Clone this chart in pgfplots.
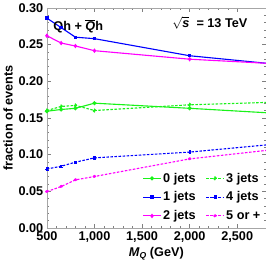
\documentclass[border=0pt]{standalone}
\usepackage{fontspec}
\setmainfont{Liberation Sans}
\usepackage{pgfplots}
\pgfplotsset{compat=1.18}
\definecolor{mgreen}{rgb}{0.1,0.95,0.1}
\definecolor{mblue}{rgb}{0,0,1}
\definecolor{mmag}{rgb}{1,0,1}
\newcommand{\ff}{\fontsize{12.5}{14}\selectfont\bfseries}
\begin{document}
\begin{tikzpicture}
\begin{axis}[
  scale only axis, width=216pt, height=217pt,
  xmin=500, xmax=2800, ymin=0, ymax=0.30,
  xtick={500,1000,1500,2000,2500},
  ytick={0,0.05,0.10,0.15,0.20,0.25,0.30},
  minor x tick num=4, minor y tick num=4,
  yticklabel style={/pgf/number format/.cd,fixed,fixed zerofill,precision=2},
  /pgf/number format/assume math mode=true,
  tick label style={font=\ff},
  label style={font=\ff},
  tick style={gray,thin}, major tick length=4pt, minor tick length=2pt,
  axis line style={gray!70},
  xlabel={\textit{M}\raisebox{-0.3ex}{\fontsize{8.5}{9}\selectfont\bfseries\itshape Q} (GeV)},
  ylabel={fraction of events},
  ylabel style={yshift=-1pt},
  xlabel style={yshift=2pt},
  legend columns=2,
  legend style={at={(0.99,0.015)},anchor=south east,draw=none,fill=none,
    font=\ff, row sep=4pt, inner sep=1pt,
    /tikz/every even column/.append style={column sep=8pt}},
  legend cell align=left,
  every axis plot/.append style={line width=1.1pt, mark size=1.4pt},
]
\addplot[mgreen, mark=*] coordinates {(500,0.159)(650,0.1614)(800,0.163)(1000,0.170)(2000,0.163)(3000,0.1555)};
\addlegendentry{0 jets}
\addplot[mgreen, mark=*, dash pattern=on 2.5pt off 1.5pt] coordinates {(500,0.160)(650,0.1655)(800,0.167)(1000,0.160)(2000,0.1678)(3000,0.1718)};
\addlegendentry{3 jets}
\addplot[mblue, mark=square*, mark size=1.1pt] coordinates {(500,0.286)(650,0.273)(800,0.260)(1000,0.258)(2000,0.2347)(3000,0.2220)};
\addlegendentry{1 jets}
\addplot[mblue, mark=square*, mark size=1.1pt, dash pattern=on 2.5pt off 1.5pt] coordinates {(500,0.0802)(650,0.084)(800,0.0895)(1000,0.0954)(2000,0.1033)(3000,0.1154)};
\addlegendentry{4 jets}
\addplot[mmag, mark=diamond*] coordinates {(500,0.262)(650,0.252)(800,0.248)(1000,0.2416)(2000,0.230)(3000,0.2231)};
\addlegendentry{2 jets}
\addplot[mmag, mark=diamond*, dash pattern=on 2.5pt off 1.5pt] coordinates {(500,0.0494)(650,0.0563)(800,0.0654)(1000,0.070)(2000,0.094)(3000,0.1084)};
\addlegendentry{5 or +}
\node[font=\ff] at (axis cs:830,0.275) {Qh + $\overline{\mbox{\ff\itshape Q}}$h};
\node[font=\ff, anchor=west] at (axis cs:1780,0.279) {$\sqrt{\mbox{\ff\itshape s}}$\ \ = 13 TeV};
\end{axis}
\end{tikzpicture}
\end{document}
